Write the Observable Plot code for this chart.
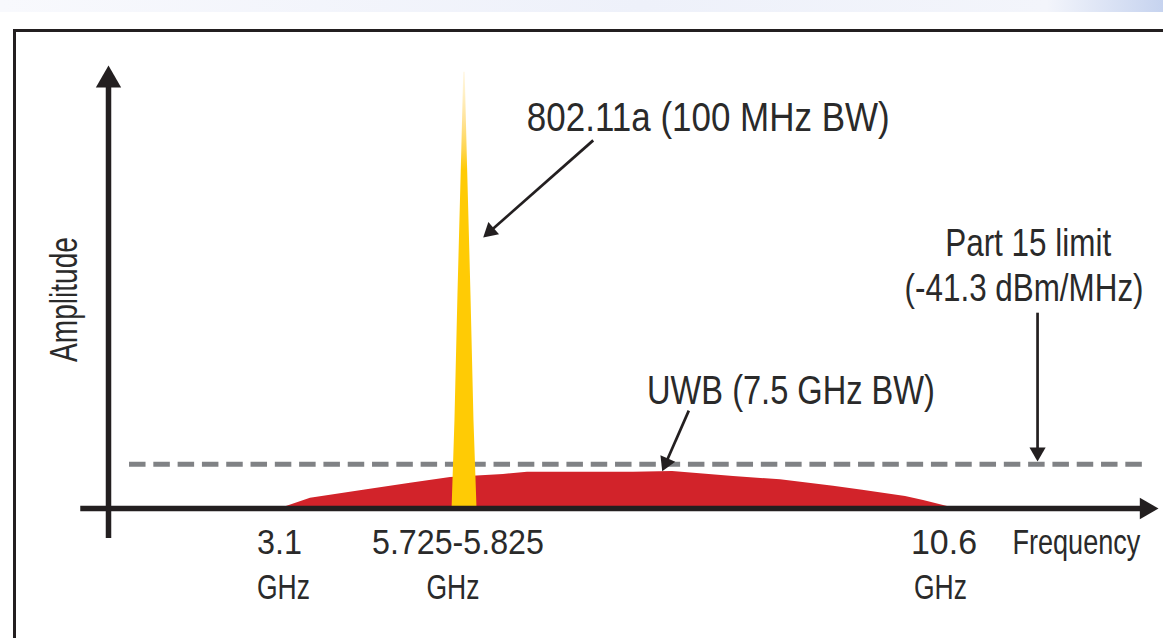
<!DOCTYPE html>
<html><head><meta charset="utf-8">
<script src="https://cdn.jsdelivr.net/npm/d3@7"></script>
<script src="https://cdn.jsdelivr.net/npm/@observablehq/plot@0.6"></script>
<style>
html,body{margin:0;padding:0;background:#fff;width:1163px;height:638px;overflow:hidden;}
#band{position:absolute;left:0;top:0;width:1163px;height:12px;background:linear-gradient(90deg,#f8f9fd 0%,#eef1fa 55%,#f3f5fb 90%,#c6d3ef 100%);}
#frame{position:absolute;left:13px;top:29px;width:1200px;height:700px;border-left:3px solid #231f20;border-top:3px solid #231f20;}
#chart{position:absolute;left:0;top:0;}
</style></head><body>
<div id="band"></div><div id="frame"></div><div id="chart"></div>
<script>
// ---- data (frequency in GHz, amplitude in arbitrary units; schematic) ----
const uwbFreq = [3.1, 3.536, 4.307, 4.990, 5.572, 6.212, 6.445, 7.474, 7.853, 8.445, 8.901, 9.416, 9.698, 10.115, 10.290, 10.6];
const uwbAmp  = [0,   2.3,   4.1,   5.7,   7.0,   7.7,   8.2,   8.2,   8.35,  7.2,   6.5,   5.0,   4.1,   2.7,    1.8,    0];

const spikeAmp = [0,     20,    48,    76,    98.5];
const spikeLo  = [5.595, 5.637, 5.680, 5.728, 5.765];
const spikeHi  = [5.955, 5.913, 5.870, 5.822, 5.785];

const part15Limit = 10;

const tickFreq   = [3.1, 5.775, 10.6];
const tickLabels = ["3.1", "5.725-5.825", "10.6"];
const tickUnit   = "GHz";

const annoText = ["802.11a (100 MHz BW)", "UWB (7.5 GHz BW)", "Part 15 limit", "(-41.3 dBm/MHz)"];
const annoFreq = [8.20, 9.003, 11.28, 12.36];
const annoAmp  = [85.3, 23.7, 57.1, 46.95];

const arrowFrom = [[7.083, 83.1], [8.011, 22.1], [11.368, 44.2]];
const arrowTo   = [[6.015, 61.2], [7.753, 8.4], [11.368, 10.6]];

const xAxisLabel = "Frequency";
const yAxisLabel = "Amplitude";

// ---- scales (piecewise: schematic, not to scale) ----
const xDomain = [0, 3.1, 5.95, 10.6, 12.5];
const xRange  = [108, 280, 476, 955, 1158];
const yDomain = [0, 100];
const yRange  = [508, 65];

const xs = d3.scaleLinear().domain(xDomain).range(xRange);
const ys = d3.scaleLinear().domain(yDomain).range(yRange);

function head(from, to, r) {
  const x0 = xs(from[0]), y0 = ys(from[1]), x1 = xs(to[0]), y1 = ys(to[1]);
  const dx = x1 - x0, dy = y1 - y0, L = Math.hypot(dx, dy);
  const h = Math.sqrt(Math.PI * r * r / (3 * Math.sqrt(3)));
  return {x0: from[0], y0: from[1], x: xs.invert(x1 - 2 * h * dx / L), y: ys.invert(y1 - 2 * h * dy / L),
          rotate: Math.atan2(dx, -dy) * 180 / Math.PI};
}

const uwb = uwbFreq.map((f, i) => ({f, a: uwbAmp[i]}));
const spike = spikeAmp.map((a, i) => ({a, lo: spikeLo[i], hi: spikeHi[i]}));
const annoHeads = arrowFrom.map((p, i) => head(p, arrowTo[i], 6));
const xHead = head([-0.5, 0], [12.5, 0], 8);
const yHead = head([0, -6.8], [0, 100], 9.4);

const INK = "#231f20";
const TXT = "#2a2a2a";
const FONT = "'Liberation Sans', Arial, Helvetica, sans-serif";

const defs = () => {
  const d = d3.create("svg:defs");
  const g = d.append("linearGradient").attr("id", "spikeGrad").attr("x1", 0).attr("y1", 0).attr("x2", 0).attr("y2", 1);
  [[0, "#fff7e4"], [0.05, "#fff0c6"], [0.11, "#ffe399"], [0.18, "#ffd54c"], [0.225, "#ffcb05"], [1, "#ffcb05"]]
    .forEach(([o, c]) => g.append("stop").attr("offset", o).attr("stop-color", c));
  return d.node();
};

const tickNudge = [-1, -6.5, -11.5];
const unitNudge = [3, -11.5, -15];
const txt = (extra) => ({text: d => d, fontFamily: FONT, lineAnchor: "bottom", fill: TXT, ...extra});

const marks = [
  defs,
  Plot.areaY(uwb, {x: "f", y: "a", fill: "#d2232a", curve: "linear"}),
  Plot.ruleY([part15Limit], {x1: 0.379, x2: 12.41, stroke: "#808285", strokeWidth: 5, strokeDasharray: "16.5,7.8"}),
  Plot.areaX(spike, {y: "a", x1: "lo", x2: "hi", fill: "url(#spikeGrad)"}),
  // axes
  Plot.ruleY([0], {x1: -0.5, x2: xHead.x, stroke: INK, strokeWidth: 5.5}),
  Plot.ruleX([0], {y1: -6.8, y2: yHead.y, stroke: INK, strokeWidth: 5.5}),
  Plot.dot([xHead], {x: "x", y: "y", r: 8, rotate: "rotate", symbol: "triangle", fill: INK, stroke: "none"}),
  Plot.dot([yHead], {x: "x", y: "y", r: 9.4, rotate: "rotate", symbol: "triangle", fill: INK, stroke: "none"}),
  // annotation arrows
  Plot.link(annoHeads, {x1: "x0", y1: "y0", x2: "x", y2: "y", stroke: INK, strokeWidth: 2.7}),
  Plot.dot(annoHeads, {x: "x", y: "y", r: 6, rotate: "rotate", symbol: "triangle", fill: INK, stroke: "none"}),
  // annotation texts
  Plot.text(annoText.slice(0, 2), txt({x: (d, i) => annoFreq[i], y: (d, i) => annoAmp[i], fontSize: 40, textAnchor: "middle"})),
  Plot.text([annoText[2]], txt({x: annoFreq[2], y: annoAmp[2], fontSize: 38, textAnchor: "middle"})),
  Plot.text([annoText[3]], txt({x: annoFreq[3], y: annoAmp[3], fontSize: 38, textAnchor: "end"})),
  // axis labels
  Plot.text([xAxisLabel], txt({x: 12.33, y: 0, dy: 45, fontSize: 35, textAnchor: "end"})),
  Plot.text([yAxisLabel], txt({x: -0.559, y: 47.18, rotate: -90, fontSize: 38, textAnchor: "middle"})),
  // tick labels
  ...tickFreq.map((f, i) => Plot.text([tickLabels[i]], txt({x: f, y: 0, dy: 45, dx: tickNudge[i], fontSize: 35, textAnchor: "middle"}))),
  ...tickFreq.map((f, i) => Plot.text([tickUnit], txt({x: f, y: 0, dy: 90, dx: unitNudge[i], fontSize: 35, textAnchor: "middle"})))
];

const chart = Plot.plot({
  width: 1163, height: 638, margin: 0,
  x: {type: "linear", domain: xDomain, range: xRange, axis: null},
  y: {type: "linear", domain: yDomain, range: yRange, axis: null},
  style: {background: "transparent", overflow: "visible"},
  marks
});
document.getElementById("chart").appendChild(chart);

// condensed look of the original lettering: squeeze each label horizontally to its width
const textWidths = {"802.11a (100 MHz BW)": 363, "UWB (7.5 GHz BW)": 288, "Part 15 limit": 166, "(-41.3 dBm/MHz)": 239,
  "Frequency": 128, "3.1": 45, "5.725-5.825": 172, "10.6": 66, "GHz": 53, "Amplitude": 125};
chart.querySelectorAll("text").forEach(t => {
  const w = textWidths[t.textContent.trim()];
  if (!w) return;
  const w0 = t.getComputedTextLength();
  if (!w0) return;
  const k = w / w0;
  const ax = +(t.getAttribute("x") || 0), ay = +(t.getAttribute("y") || 0);
  const tr = t.getAttribute("transform") || "";
  t.setAttribute("transform", `${tr} translate(${ax},${ay}) scale(${k},1) translate(${-ax},${-ay})`);
});
</script>
</body></html>
